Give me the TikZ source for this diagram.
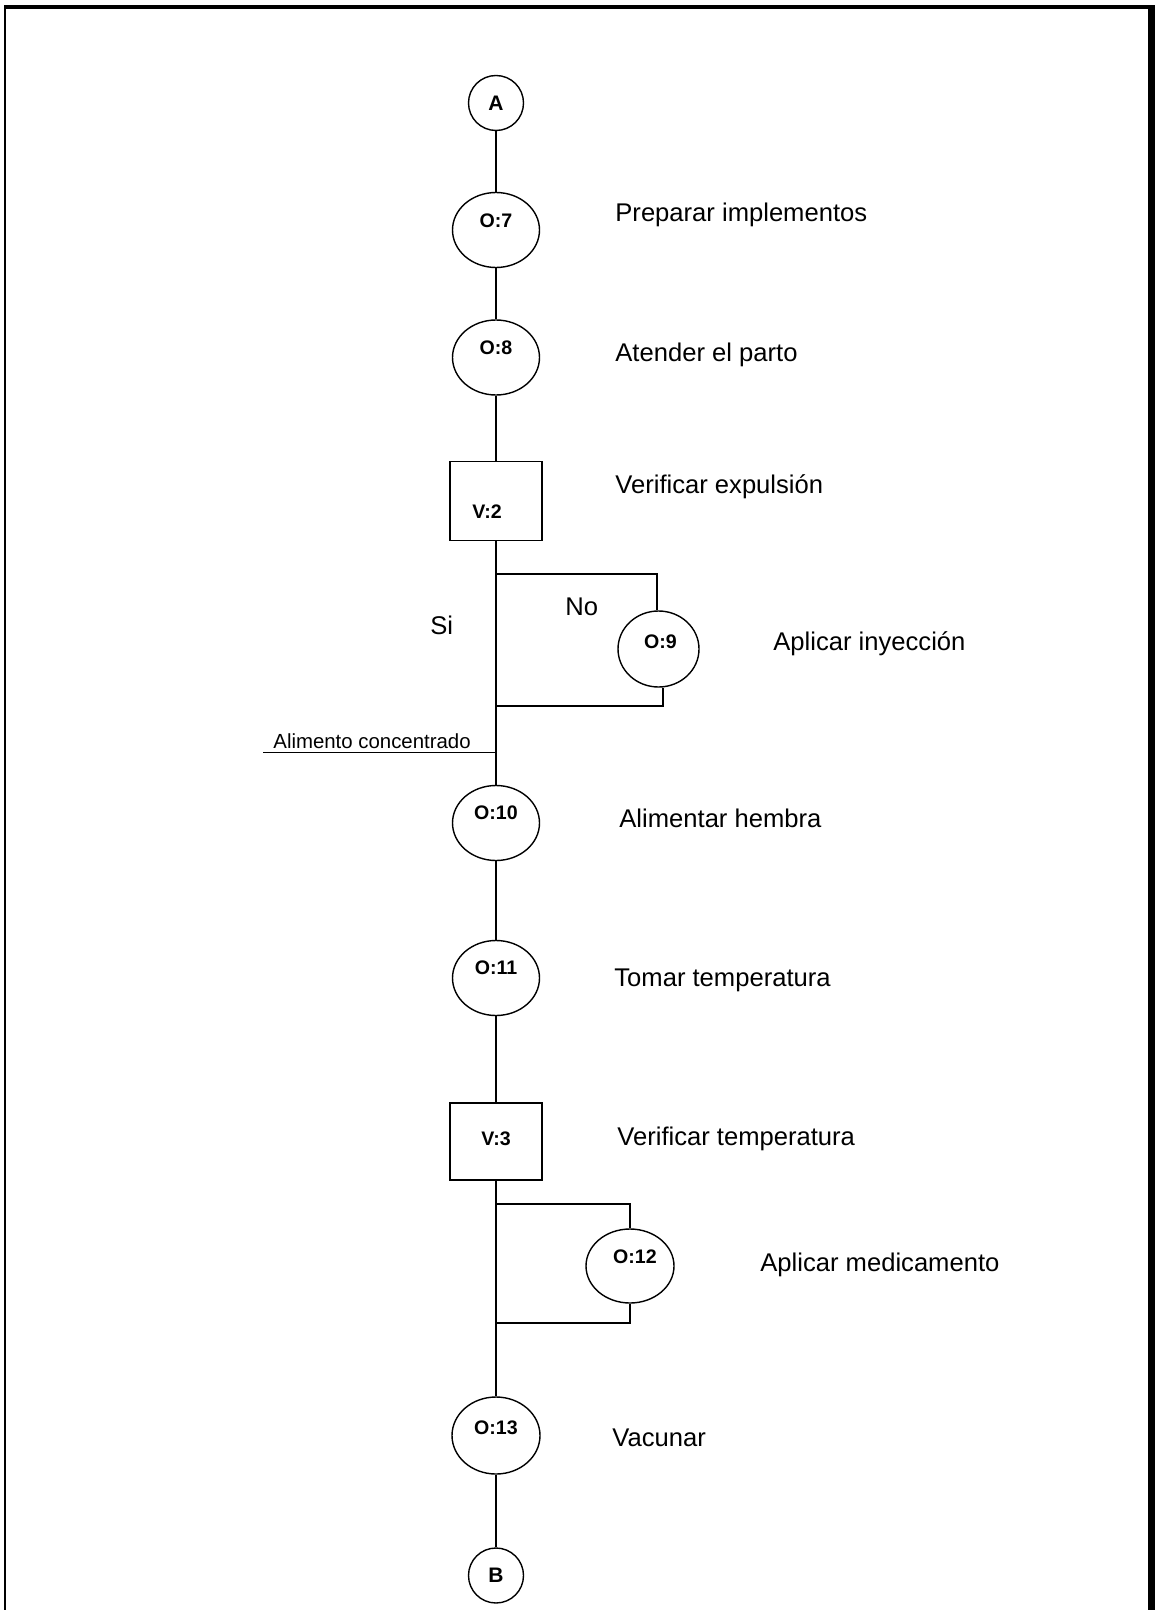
\documentclass[tikz,border=0pt]{standalone}
\usepackage{fontspec}
\setmainfont{Liberation Sans}
\usetikzlibrary{shapes.geometric}
\begin{document}
\begin{tikzpicture}[x=0.5pt,y=-0.5pt,
  shapeline/.style={line width=0.7pt},
  flow/.style={line width=0.8pt},
  opnode/.style={ellipse,draw,shapeline,inner sep=0pt,minimum width=43.5pt,minimum height=37.5pt},
  inspnode/.style={rectangle,draw,shapeline,inner sep=0pt,minimum width=46pt,minimum height=39.5pt},
  linknode/.style={circle,draw,shapeline,inner sep=0pt,minimum size=27.5pt,font=\bfseries\fontsize{10.5}{12}\selectfont},
  tag/.style={font=\bfseries\fontsize{9.8}{11}\selectfont,inner sep=0pt},
  desc/.style={font=\fontsize{12.8}{15}\selectfont,anchor=base west,inner sep=0pt},
  smalldesc/.style={font=\fontsize{10.2}{12}\selectfont,anchor=base west,inner sep=0pt}]
\useasboundingbox (0,0) rectangle (1155,1610);

% page frame
\fill (4,5) rectangle (1155,9);
\fill (4,5) rectangle (6,1610);
\fill (1148,5) rectangle (1155,1610);

% main column of activities
\node[linknode] (A) at (496,103) {A};
\node[opnode,label={[tag,yshift=4.5pt]center:{O:7}}] (O7) at (496,230) {};
\node[opnode,label={[tag,yshift=5pt]center:{O:8}}] (O8) at (496,357.5) {};
\node[inspnode,label={[tag,xshift=-4.5pt,yshift=-5.5pt]center:{V:2}}] (V2) at (496,501) {};
\node[opnode,minimum width=40.5pt,minimum height=38pt,label={[tag,xshift=1pt,yshift=3.5pt]center:{O:9}}] (O9) at (658.5,649) {};
\node[opnode,label={[tag,yshift=5pt]center:{O:10}}] (O10) at (496,823) {};
\node[opnode,label={[tag,yshift=5pt]center:{O:11}}] (O11) at (496,978) {};
\node[inspnode,minimum height=38.5pt,label={[tag,yshift=1.5pt]center:{V:3}}] (V3) at (496,1141.5) {};
\node[opnode,minimum width=44pt,minimum height=37pt,label={[tag,xshift=2.5pt,yshift=4.5pt]center:{O:12}}] (O12) at (630,1266) {};
\node[opnode,minimum width=44pt,minimum height=38.5pt,label={[tag,yshift=4pt]center:{O:13}}] (O13) at (496,1435.5) {};
\node[linknode] (B) at (496,1575.5) {B};

% junctions on the main line
\coordinate (j1) at (496,574);
\coordinate (j2) at (496,706);
\coordinate (jfeed) at (496,752.5);
\coordinate (feed) at (263,752.5);
\coordinate (j3) at (496,1204);
\coordinate (j4) at (496,1323);

% connectors
\draw[flow] (A) -- (O7);
\draw[flow] (O7) -- (O8);
\draw[flow] (O8) -- (V2);
\draw[flow] (V2) -- (O10);
\draw[flow] (O10) -- (O11);
\draw[flow] (O11) -- (V3);
\draw[flow] (V3) -- (O13);
\draw[flow] (O13) -- (B);
\draw[flow] (j1) -| ([xshift=-0.75pt]O9.north);
\draw[flow] ([xshift=2.25pt]O9.south) |- (j2);
\draw[flow] (feed) -- (jfeed);
\draw[flow] (j3) -| (O12.north);
\draw[flow] (O12.south) |- (j4);

% branch words and material input
\node[desc] (si) at (430,634) {Si};
\node[desc] (no) at (565,615) {No};
\node[smalldesc] (feedtxt) at (273,748) {Alimento concentrado};

% descriptions
\node[desc] (d7) at (615,221.5) {Preparar implementos};
\node[desc] (d8) at (615,361.5) {Atender el parto};
\node[desc] (dv2) at (615,493) {Verificar expulsión};
\node[desc] (d9) at (773,650) {Aplicar inyección};
\node[desc] (d10) at (619,827) {Alimentar hembra};
\node[desc] (d11) at (614,986) {Tomar temperatura};
\node[desc] (dv3) at (617,1145) {Verificar temperatura};
\node[desc] (d12) at (760,1271) {Aplicar medicamento};
\node[desc] (d13) at (612,1446) {Vacunar};
\end{tikzpicture}
\end{document}
